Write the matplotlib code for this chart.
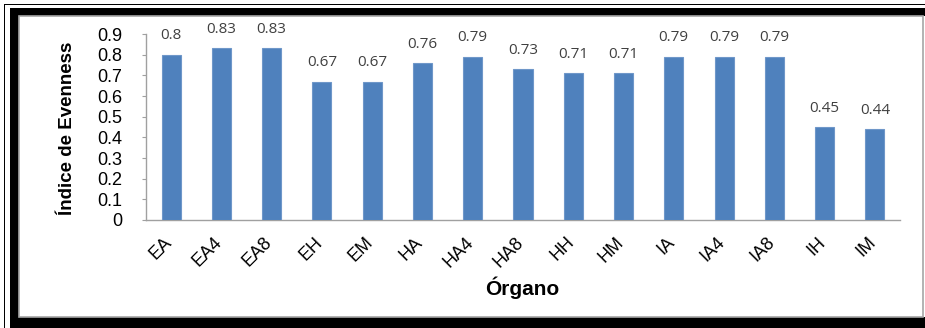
import matplotlib.pyplot as plt
import matplotlib.transforms as mtransforms
from matplotlib.patches import Rectangle

# Evenness index per organ
organos = ['EA', 'EA4', 'EA8', 'EH', 'EM', 'HA', 'HA4', 'HA8', 'HH', 'HM',
           'IA', 'IA4', 'IA8', 'IH', 'IM']
evenness = [0.80, 0.83, 0.83, 0.67, 0.67, 0.76, 0.79, 0.73, 0.71, 0.71,
            0.79, 0.79, 0.79, 0.45, 0.44]
yticks = [0, 0.1, 0.2, 0.3, 0.4, 0.5, 0.6, 0.7, 0.8, 0.9]

W, H = 925, 328
fig = plt.figure(figsize=(W / 100, H / 100), dpi=100)
fig.patch.set_facecolor('white')


def px(x0, y0, x1, y1, **kw):
    # rectangle in pixel coords (origin top-left), drawn behind the axes
    fig.add_artist(Rectangle((x0 / W, 1 - y1 / H), (x1 - x0) / W, (y1 - y0) / H,
                             transform=fig.transFigure, zorder=-5, **kw))


# frame around the chart
px(4, 4, 925, 5, facecolor='black', lw=0)
px(4, 4, 5, 328, facecolor='black', lw=0)
px(10, 8, 925, 16, facecolor='black', lw=0)
px(10, 8, 19, 328, facecolor='black', lw=0)
px(10, 317, 925, 328, facecolor='black', lw=0)
px(19, 16, 923, 317, facecolor='white', edgecolor='#a6a6a6', lw=1.2)

ax = fig.add_axes([146 / W, 1 - 220 / H, (900 - 146) / W, (220 - 34) / H])
x = list(range(len(organos)))
bars = ax.bar(x, evenness, width=0.38, color='#4f81bd', edgecolor='#6f97c9', lw=0.8,
              zorder=3)
for xi, v in zip(x, evenness):
    ax.text(xi, v + 0.055, f'{v:g}', ha='center', va='bottom', fontsize=11,
            color='#404040', family='Open Sans')

ax.set_xlim(-0.5, len(organos) - 0.5)
ax.set_ylim(0, 0.9)
ax.set_yticks(yticks)
ax.set_yticklabels([f'{t:g}' for t in yticks], family='Liberation Sans', fontsize=13)
ax.set_xticks(x)
ax.set_xticklabels(organos, rotation=45, ha='right', rotation_mode='anchor',
                   family='Liberation Sans', fontsize=13)
ax.tick_params(axis='x', length=0, pad=10)
ax.tick_params(axis='y', length=3, width=0.8, color='#a0a0a0', pad=14)

# nudge the slanted category labels a little to the left
shift = mtransforms.ScaledTranslation(-8 / 100, 0, fig.dpi_scale_trans)
for lbl in ax.get_xticklabels():
    lbl.set_transform(lbl.get_transform() + shift)

for s in ['top', 'right']:
    ax.spines[s].set_visible(False)
for s in ['left', 'bottom']:
    ax.spines[s].set_color('#a0a0a0')
    ax.spines[s].set_linewidth(1)
ax.patch.set_alpha(0)

fig.text(67 / W, 1 - 128 / H, 'Índice de Evenness', rotation=90, ha='center',
         va='center', fontsize=13.5, fontweight='bold', family='Liberation Sans')
fig.text(522 / W, 1 - 288 / H, 'Órgano', ha='center', va='center', fontsize=15,
         fontweight='bold', family='Liberation Sans')

fig.savefig('out.png', dpi=100)
